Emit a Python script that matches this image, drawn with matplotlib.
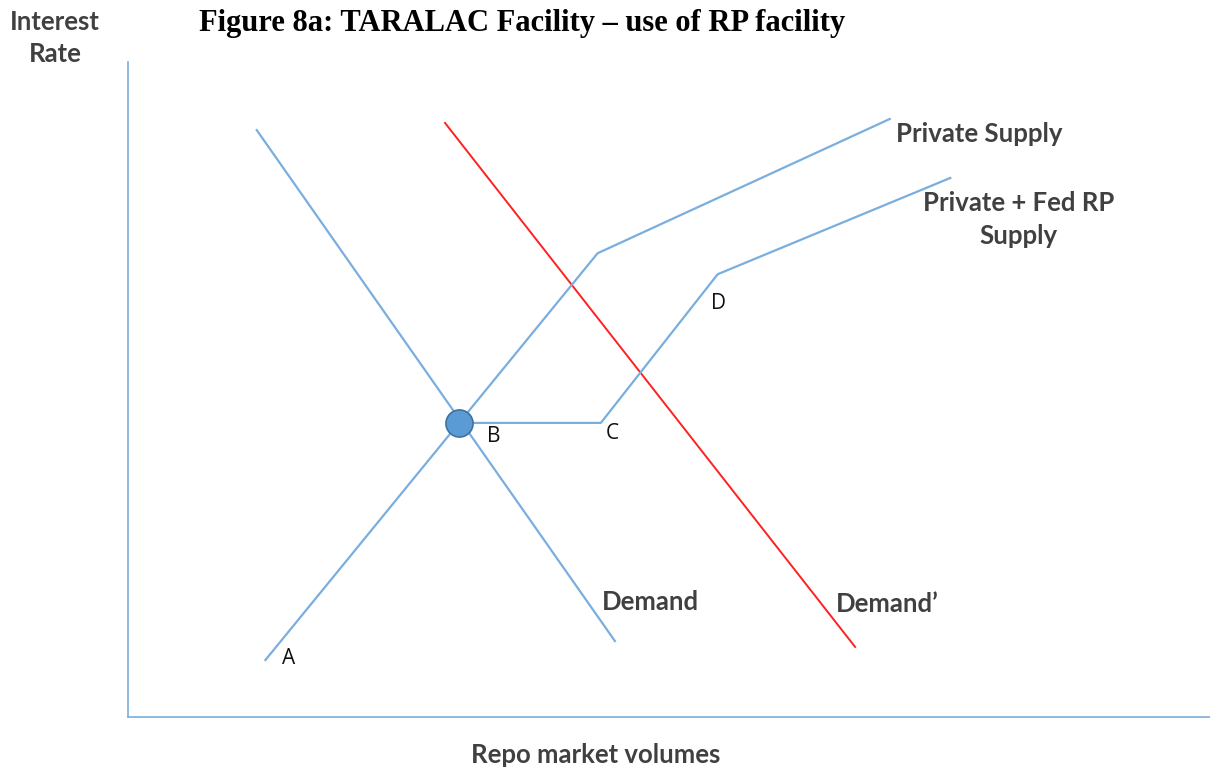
import numpy as np
import matplotlib
matplotlib.use("Agg")
import matplotlib.pyplot as plt

# schematic curves (x = repo volume, y = interest rate, arbitrary units 0-100)
demand_x = [11.9, 45.0]
demand_y = [89.6, 11.6]

demand2_x = [29.3, 67.2]
demand2_y = [90.7, 10.7]

priv_x = [12.7, 43.4, 70.4]
priv_y = [8.7, 70.8, 91.3]

fed_x = [30.6, 43.7, 54.5, 76.0]
fed_y = [44.9, 44.9, 67.6, 82.3]

eq_x, eq_y = 30.6, 44.9

points = ["A", "B", "C", "D"]
points_x = [14.8, 33.8, 44.8, 54.6]
points_y = [9.0, 42.8, 43.3, 63.2]

blue = "#7aaede"
red = "#ff2020"
grey = "#404040"

fig = plt.figure(figsize=(12.1, 7.67), dpi=100)
ax = fig.add_axes([128/1210, 50/767, 1082/1210, 655/767])
ax.set_xlim(0, 100)
ax.set_ylim(0, 100)
ax.set_xticks([])
ax.set_yticks([])
for s in ["top", "right"]:
    ax.spines[s].set_visible(False)
for s in ["left", "bottom"]:
    ax.spines[s].set_color(blue)
    ax.spines[s].set_linewidth(1.2)

ax.plot(demand_x, demand_y, color=blue, lw=1.6)
ax.plot(demand2_x, demand2_y, color=red, lw=1.4)
ax.plot(priv_x, priv_y, color=blue, lw=1.6)
ax.plot(fed_x, fed_y, color=blue, lw=1.6)
ax.plot(eq_x, eq_y, 'o', ms=19.5, mfc="#5b9bd5", mec="#41719c", mew=1.2, zorder=5)

for lab, px, py in zip(points, points_x, points_y):
    ax.text(px, py, lab, fontsize=15, family="Open Sans", color="#111111",
            ha="center", va="center")

lbl = dict(fontsize=18.5, family="Lato", fontweight="bold", color=grey)
ax.text(71.0, 89.0, "Private Supply", ha="left", va="center", **lbl)
ax.text(82.3, 76.0, "Private + Fed RP\nSupply", ha="center", va="center",
        linespacing=1.45, **lbl)
ax.text(43.8, 17.6, "Demand", ha="left", va="center", **lbl)
ax.text(65.4, 17.3, "Demand\u2019", ha="left", va="center", **lbl)

fig.text(55/1210, 1 - 38/767, "Interest\nRate", ha="center", va="center",
         linespacing=1.45, **lbl)
fig.text(596/1210, 1 - 755/767, "Repo market volumes", ha="center", va="center", **lbl)
fig.text(522/1210, 1 - 24/767, "Figure 8a: TARALAC Facility \u2013 use of RP facility",
         ha="center", va="center", fontsize=22, family="Liberation Serif",
         fontweight="bold", color="black")

fig.savefig("out.png", dpi=100)
